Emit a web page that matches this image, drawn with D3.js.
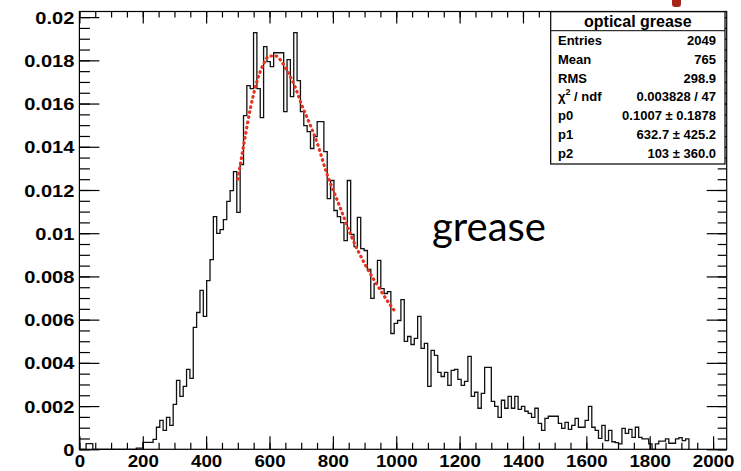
<!DOCTYPE html>
<html><head><meta charset="utf-8">
<script src="https://cdn.jsdelivr.net/npm/d3@7"></script>
<style>
body{margin:0;background:#fff;}
svg{display:block;}
.root text{font-family:"Liberation Sans",Arial,Helvetica,sans-serif;font-weight:bold;fill:#000;}
</style></head><body>
<svg id="c" width="741" height="471"></svg>
<script>
// ---- data ----
const binWidth = 10.57;            // x units per bin
const xMax = 2043;                 // histogram axis range
const yMax = 0.02026;
const binValues = [
0,0,0.00026,0.00026,0,0,0,0,0,0,
0,0,0,0,0,0,0,0.00005,0.00005,0.00032,
0.00032,0.00032,0.00046,0.00102,0.00134,0.00088,0.00148,0.00111,0.00208,0.00319,
0.00245,0.00291,0.00370,0.00328,0.00564,0.00633,0.00735,0.00615,0.00781,0.00878,
0.01077,0.00999,0.01017,0.01063,0.01147,0.01197,0.01285,0.01096,0.01318,0.01544,
0.01683,0.01669,0.01928,0.01669,0.01535,0.01863,0.01794,0.01771,0.01835,0.01835,
0.01835,0.01563,0.01803,0.01632,0.01928,0.01706,0.01563,0.01498,0.01470,0.01392,
0.01447,0.01516,0.01516,0.01378,0.01160,0.01244,0.01105,0.01077,0.01049,0.00966,
0.01244,0.00994,0.00938,0.01073,0.00929,0.00920,0.00832,0.00698,0.00767,0.00874,
0.00744,0.00721,0.00730,0.00536,0.00583,0.00596,0.00693,0.00499,0.00522,0.00485,
0.00513,0.00615,0.00467,0.00490,0.00291,0.00458,0.00435,0.00356,0.00337,0.00356,
0.00296,0.00365,0.00370,0.00324,0.00296,0.00314,0.00430,0.00245,0.00264,0.00190,
0.00259,0.00379,0.00379,0.00222,0.00199,0.00148,0.00227,0.00190,0.00245,0.00190,
0.00245,0.00185,0.00199,0.00176,0.00166,0.00148,0.00190,0.00120,0.00088,0.00143,
0.00153,0.00153,0.00153,0.00120,0.00097,0.00125,0.00092,0.00111,0.00143,0.00102,
0.00102,0.00134,0.00199,0.00102,0.00088,0.00051,0.00111,0.00040,0.00088,0.00035,
0.00031,0.00025,0.00097,0.00074,0.00092,0.00055,0.00102,0.00055,0.00048,0.00048,
0.00025,0,0.00025,0.00038,0.00038,0.00048,0.00028,0.00028,0.00048,0.00054,
0.00040,0.00048
];
const fitX = [500,520,540,560,580,600,620,640,660,680,700,720,750,780,820,860,900,940,980,1000];
const fitY = [0.0125,0.0142,0.0158,0.0170,0.0178,0.0182,0.0182,0.0179,0.0174,0.0168,0.0160,0.0153,0.0142,0.0128,0.0113,0.0098,0.0086,0.0076,0.0067,0.0063];
const xMajorTicks = [0,200,400,600,800,1000,1200,1400,1600,1800,2000];
const xTickLabels = ["0","200","400","600","800","1000","1200","1400","1600","1800","2000"];
const xMinorTicks = d3.range(0, 2043, 50);
const yMajorTicks = [0,0.002,0.004,0.006,0.008,0.01,0.012,0.014,0.016,0.018,0.02];
const yTickLabels = ["0","0.002","0.004","0.006","0.008","0.01","0.012","0.014","0.016","0.018","0.02"];
const yMinorTicks = d3.range(0, 0.0202, 0.0005);
const statTitle = "optical grease";
const statLabels = ["Entries","Mean","RMS","CHI","p0","p1","p2"];
const statValues = ["2049","765","298.9","0.003828 / 47","0.1007 \u00b1 0.1878","632.7 \u00b1 425.2","103 \u00b1 360.0"];
const annotation = "grease";

// ---- layout ----
const L = 79.4, R = 726.7, T = 11.5, B = 449.3;
const svg = d3.select("#c").attr("class","root");
const x = d3.scaleLinear().domain([0, xMax]).range([L, R]);
const y = d3.scaleLinear().domain([0, yMax]).range([B, T]);

function stretch(sel, k){
  sel.each(function(){
    const w = this.getComputedTextLength();
    d3.select(this).attr("textLength", w*k).attr("lengthAdjust","spacingAndGlyphs");
  });
}

// histogram step outline
const pts = [[0,0]].concat(binValues.map((v,i)=>[i*binWidth, v]));
pts.push([binValues.length*binWidth, 0]);
const step = d3.line().x(d=>x(d[0])).y(d=>y(d[1])).curve(d3.curveStepAfter);
svg.append("path").attr("d", step(pts))
  .attr("fill","none").attr("stroke","#111").attr("stroke-width",1.3);

// fit curve
const fitLine = d3.line().x((d,i)=>x(fitX[i])).y(d=>y(d)).curve(d3.curveMonotoneX);
svg.append("path").attr("d", fitLine(fitY))
  .attr("fill","none").attr("stroke","#e8321e").attr("stroke-width",3.2)
  .attr("stroke-linecap","round").attr("stroke-dasharray","0.6,4.6");

// axes
function clean(g){ g.select(".domain").remove(); g.selectAll("line").attr("stroke","#000").attr("stroke-width",1.2); }
svg.append("g").attr("transform",`translate(0,${B})`)
  .call(d3.axisBottom(x).tickValues(xMinorTicks).tickSize(-6.5).tickFormat("")).call(clean);
const gx = svg.append("g").attr("transform",`translate(0,${B})`)
  .call(d3.axisBottom(x).tickValues(xMajorTicks).tickSize(-13).tickSizeOuter(0).tickPadding(6)
  .tickFormat((d,i)=>xTickLabels[i])).call(clean);
gx.selectAll("text").attr("font-size",17);
stretch(gx.selectAll("text"), 1.1);
svg.append("g").attr("transform",`translate(0,${T})`)
  .call(d3.axisTop(x).tickValues(xMinorTicks).tickSize(-6).tickFormat("")).call(clean);
svg.append("g").attr("transform",`translate(0,${T})`)
  .call(d3.axisTop(x).tickValues(xMajorTicks).tickSize(-12).tickFormat("")).call(clean);

svg.append("g").attr("transform",`translate(${L},0)`)
  .call(d3.axisLeft(y).tickValues(yMinorTicks).tickSize(-10.5).tickFormat("")).call(clean);
const gy = svg.append("g").attr("transform",`translate(${L},0)`)
  .call(d3.axisLeft(y).tickValues(yMajorTicks).tickSize(-20).tickPadding(5)
  .tickFormat((d,i)=>yTickLabels[i])).call(clean);
gy.selectAll("text").attr("font-size",17).attr("dy","0.36em");
stretch(gy.selectAll("text"), 1.18);
svg.append("g").attr("transform",`translate(${R},0)`)
  .call(d3.axisRight(y).tickValues(yMinorTicks).tickSize(-9).tickFormat("")).call(clean);
svg.append("g").attr("transform",`translate(${R},0)`)
  .call(d3.axisRight(y).tickValues(yMajorTicks).tickSize(-20).tickFormat("")).call(clean);

// frame
svg.append("rect").attr("x",L).attr("y",T).attr("width",R-L).attr("height",B-T)
  .attr("fill","none").attr("stroke","#000").attr("stroke-width",1.2);

// stat box
const sb = {x0:550.7, x1:725, y0:11.7, y1:164};
svg.append("rect").attr("x",sb.x0).attr("y",sb.y0).attr("width",sb.x1-sb.x0).attr("height",sb.y1-sb.y0)
  .attr("fill","#fff").attr("stroke","#000").attr("stroke-width",1.2);
svg.append("line").attr("x1",sb.x0).attr("x2",sb.x1).attr("y1",30.7).attr("y2",30.7)
  .attr("stroke","#000").attr("stroke-width",1);
svg.append("text").attr("x",(sb.x0+sb.x1)/2).attr("y",26.5).attr("text-anchor","middle")
  .attr("font-size",16).text(statTitle);
statLabels.forEach((lab,i)=>{
  const by = 45 + i*18.83;
  const t = svg.append("text").attr("x",558).attr("y",by).attr("font-size",13);
  if(lab==="CHI"){
    t.append("tspan").text("\u03c7");
    t.append("tspan").attr("font-size",9).attr("dy",-6).text("2");
    t.append("tspan").attr("dy",6).text(" / ndf");
  } else t.text(lab);
  svg.append("text").attr("x",716).attr("y",by).attr("text-anchor","end").attr("font-size",13).text(statValues[i]);
});

// annotation
svg.append("text").attr("x",432).attr("y",241)
  .style("font-family","Lato, 'Open Sans', sans-serif").style("font-weight","normal")
  .attr("font-size",40).text(annotation);

// small red mark at top edge
svg.append("rect").attr("x",672).attr("y",-3).attr("width",9).attr("height",10).attr("rx",3).attr("fill","#a82418");
</script>
</body></html>
